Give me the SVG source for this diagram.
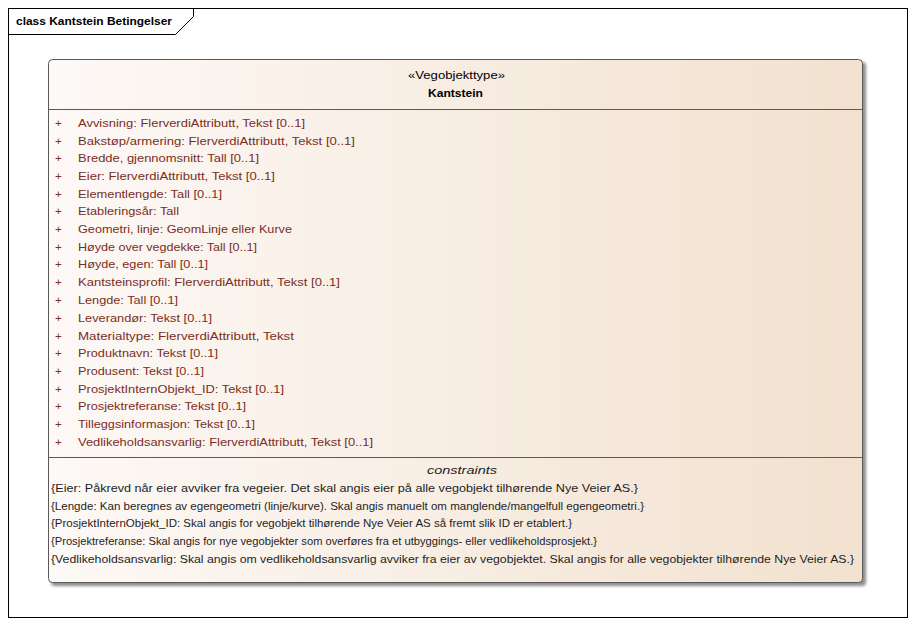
<svg xmlns="http://www.w3.org/2000/svg" width="916" height="626" viewBox="0 0 916 626">
<defs>
<linearGradient id="g" x1="0" y1="0" x2="1" y2="0">
<stop offset="0" stop-color="#fdf9f6"/>
<stop offset="1" stop-color="#f2e1cf"/>
</linearGradient>
<filter id="sh" x="-5%" y="-5%" width="110%" height="110%">
<feGaussianBlur stdDeviation="1.5"/>
</filter>
</defs>
<style>
text{font-family:"Liberation Sans",Arial,sans-serif;font-size:11.5px}
.a{fill:#7a2e1e}
.c{fill:#1e1e1e}
.c text{font-size:11px}
.t{font-weight:bold;fill:#000}
</style>
<rect x="0" y="0" width="916" height="626" fill="#fff"/>
<g id="frame">
<rect x="8.5" y="8.5" width="899" height="609" fill="none" stroke="#000" stroke-width="1"/>
<path d="M8.5,34.5 H175.5 L193.5,16.5 V8.5" fill="none" stroke="#000" stroke-width="1"/>
<text x="16" y="25" class="t" textLength="156" lengthAdjust="spacingAndGlyphs">class Kantstein Betingelser</text>
</g>
<g id="Kantstein">
<rect x="51" y="62" width="815" height="524" rx="4" fill="#707070" opacity="0.8" filter="url(#sh)"/>
<rect x="48.5" y="59.5" width="814" height="523" rx="4" fill="url(#g)" stroke="#5a5a5a" stroke-width="1"/>
<line x1="48.5" y1="109.5" x2="862.5" y2="109.5" stroke="#5a5a5a"/>
<line x1="48.5" y1="457.5" x2="862.5" y2="457.5" stroke="#5a5a5a"/>
<text x="408" y="79" fill="#000" textLength="97" lengthAdjust="spacingAndGlyphs">«Vegobjekttype»</text>
<text x="428" y="97" class="t" textLength="55" lengthAdjust="spacingAndGlyphs">Kantstein</text>
<g class="a">
<text x="55" y="127">+</text><text x="78" y="127" textLength="227" lengthAdjust="spacingAndGlyphs">Avvisning: FlerverdiAttributt, Tekst [0..1]</text>
<text x="55" y="145">+</text><text x="78" y="145" textLength="277" lengthAdjust="spacingAndGlyphs">Bakstøp/armering: FlerverdiAttributt, Tekst [0..1]</text>
<text x="55" y="162">+</text><text x="78" y="162" textLength="181" lengthAdjust="spacingAndGlyphs">Bredde, gjennomsnitt: Tall [0..1]</text>
<text x="55" y="180">+</text><text x="78" y="180" textLength="197" lengthAdjust="spacingAndGlyphs">Eier: FlerverdiAttributt, Tekst [0..1]</text>
<text x="55" y="198">+</text><text x="78" y="198" textLength="144" lengthAdjust="spacingAndGlyphs">Elementlengde: Tall [0..1]</text>
<text x="55" y="215">+</text><text x="78" y="215" textLength="101" lengthAdjust="spacingAndGlyphs">Etableringsår: Tall</text>
<text x="55" y="233">+</text><text x="78" y="233" textLength="214" lengthAdjust="spacingAndGlyphs">Geometri, linje: GeomLinje eller Kurve</text>
<text x="55" y="251">+</text><text x="78" y="251" textLength="179" lengthAdjust="spacingAndGlyphs">Høyde over vegdekke: Tall [0..1]</text>
<text x="55" y="268">+</text><text x="78" y="268" textLength="130" lengthAdjust="spacingAndGlyphs">Høyde, egen: Tall [0..1]</text>
<text x="55" y="286">+</text><text x="78" y="286" textLength="262" lengthAdjust="spacingAndGlyphs">Kantsteinsprofil: FlerverdiAttributt, Tekst [0..1]</text>
<text x="55" y="304">+</text><text x="78" y="304" textLength="100" lengthAdjust="spacingAndGlyphs">Lengde: Tall [0..1]</text>
<text x="55" y="322">+</text><text x="78" y="322" textLength="134" lengthAdjust="spacingAndGlyphs">Leverandør: Tekst [0..1]</text>
<text x="55" y="340">+</text><text x="78" y="340" textLength="216" lengthAdjust="spacingAndGlyphs">Materialtype: FlerverdiAttributt, Tekst</text>
<text x="55" y="357">+</text><text x="78" y="357" textLength="140" lengthAdjust="spacingAndGlyphs">Produktnavn: Tekst [0..1]</text>
<text x="55" y="375">+</text><text x="78" y="375" textLength="126" lengthAdjust="spacingAndGlyphs">Produsent: Tekst [0..1]</text>
<text x="55" y="393">+</text><text x="78" y="393" textLength="206" lengthAdjust="spacingAndGlyphs">ProsjektInternObjekt_ID: Tekst [0..1]</text>
<text x="55" y="410">+</text><text x="78" y="410" textLength="168" lengthAdjust="spacingAndGlyphs">Prosjektreferanse: Tekst [0..1]</text>
<text x="55" y="428">+</text><text x="78" y="428" textLength="177" lengthAdjust="spacingAndGlyphs">Tilleggsinformasjon: Tekst [0..1]</text>
<text x="55" y="446">+</text><text x="78" y="446" textLength="295" lengthAdjust="spacingAndGlyphs">Vedlikeholdsansvarlig: FlerverdiAttributt, Tekst [0..1]</text>
</g>
<text x="427" y="474" class="c" font-style="italic" textLength="70" lengthAdjust="spacingAndGlyphs">constraints</text>
<g class="c">
<text x="51" y="492" textLength="587" lengthAdjust="spacingAndGlyphs">{Eier: Påkrevd når eier avviker fra vegeier. Det skal angis eier på alle vegobjekt tilhørende Nye Veier AS.}</text>
<text x="51" y="510" textLength="593" lengthAdjust="spacingAndGlyphs">{Lengde: Kan beregnes av egengeometri (linje/kurve). Skal angis manuelt om manglende/mangelfull egengeometri.}</text>
<text x="51" y="527" textLength="521" lengthAdjust="spacingAndGlyphs">{ProsjektInternObjekt_ID: Skal angis for vegobjekt tilhørende Nye Veier AS så fremt slik ID er etablert.}</text>
<text x="51" y="545" textLength="546" lengthAdjust="spacingAndGlyphs">{Prosjektreferanse: Skal angis for nye vegobjekter som overføres fra et utbyggings- eller vedlikeholdsprosjekt.}</text>
<text x="51" y="563" textLength="803" lengthAdjust="spacingAndGlyphs">{Vedlikeholdsansvarlig: Skal angis om vedlikeholdsansvarlig avviker fra eier av vegobjektet. Skal angis for alle vegobjekter tilhørende Nye Veier AS.}</text>
</g>
</g>
</svg>
